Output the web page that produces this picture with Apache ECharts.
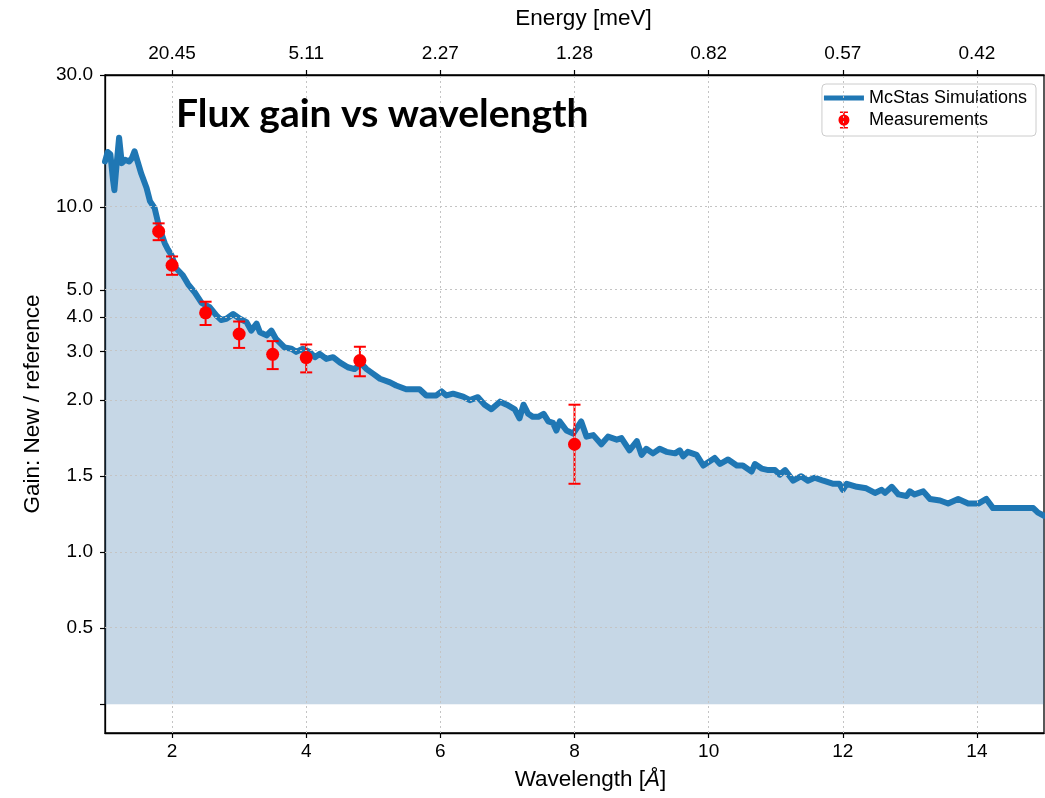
<!DOCTYPE html>
<html>
<head>
<meta charset="utf-8">
<script src="https://cdn.jsdelivr.net/npm/echarts@6/dist/echarts.min.js"></script>
<style>
html,body{margin:0;padding:0;background:#fff;}
#chart{width:1045px;height:798px;}
</style>
</head>
<body>
<div id="chart"></div>
<script>
// ---------- data ----------
const simX = [1.00,1.04,1.08,1.12,1.14,1.17,1.21,1.25,1.30,1.36,1.40,1.44,1.49,1.54,1.62,1.67,1.74,1.81,1.89,1.94,1.99,2.06,2.16,2.24,2.34,2.44,2.56,2.66,2.73,2.81,2.91,3.01,3.11,3.18,3.26,3.31,3.41,3.48,3.55,3.68,3.78,3.85,3.95,4.05,4.13,4.20,4.30,4.40,4.50,4.62,4.72,4.82,4.90,5.00,5.10,5.25,5.34,5.49,5.54,5.69,5.79,5.94,6.02,6.09,6.19,6.34,6.44,6.56,6.66,6.76,6.89,6.99,7.11,7.18,7.24,7.31,7.38,7.46,7.54,7.61,7.68,7.73,7.78,7.88,7.98,8.10,8.18,8.28,8.40,8.50,8.63,8.70,8.82,8.93,9.00,9.07,9.17,9.27,9.37,9.50,9.57,9.62,9.69,9.82,9.92,10.09,10.17,10.29,10.42,10.51,10.64,10.69,10.79,10.89,10.99,11.06,11.14,11.26,11.38,11.48,11.58,11.71,11.86,11.95,12.00,12.06,12.21,12.35,12.48,12.58,12.63,12.73,12.83,12.95,13.00,13.07,13.20,13.30,13.45,13.57,13.72,13.87,14.02,14.14,14.24,14.44,14.64,14.84,14.91,15.00];
const simY = [14.6,15.8,15.5,12.5,11.5,14.0,17.8,14.4,14.8,14.6,15.0,15.9,14.5,13.2,11.7,10.5,9.9,8.4,7.4,7.0,6.7,6.0,5.66,5.25,4.9,4.5,4.34,4.05,3.9,3.94,4.1,3.94,3.83,3.57,3.78,3.52,3.43,3.57,3.33,3.10,3.07,2.99,3.07,2.99,2.86,2.94,2.82,2.86,2.74,2.63,2.59,2.71,2.59,2.49,2.39,2.32,2.26,2.19,2.19,2.19,2.08,2.08,2.15,2.08,2.11,2.06,2.00,2.05,1.97,1.94,1.99,1.97,1.94,1.88,1.97,1.91,1.89,1.89,1.91,1.86,1.85,1.80,1.86,1.80,1.78,1.86,1.76,1.77,1.71,1.76,1.74,1.75,1.67,1.73,1.64,1.68,1.65,1.68,1.66,1.65,1.67,1.63,1.66,1.64,1.57,1.62,1.58,1.61,1.57,1.57,1.53,1.58,1.55,1.54,1.54,1.51,1.54,1.47,1.50,1.47,1.49,1.47,1.45,1.45,1.41,1.45,1.43,1.42,1.39,1.41,1.39,1.43,1.38,1.37,1.40,1.38,1.40,1.35,1.34,1.32,1.35,1.32,1.32,1.35,1.29,1.29,1.29,1.29,1.26,1.24];

const measX = [1.8, 2.0, 2.5, 3.0, 3.5, 4.0, 4.8, 8.0];
const measY = [8.15, 6.15, 4.14, 3.47, 2.93, 2.85, 2.78, 1.71];
const measErr = [0.57, 0.47, 0.40, 0.38, 0.34, 0.33, 0.34, 0.26];

const xTicks = [2, 4, 6, 8, 10, 12, 14];
const xTickLabels = ['2', '4', '6', '8', '10', '12', '14'];
const energyLabels = ['20.45', '5.11', '2.27', '1.28', '0.82', '0.57', '0.42'];
const yTicks = [0, 0.5, 1.0, 1.5, 2.0, 3.0, 4.0, 5.0, 10.0, 30.0];
const yTickLabels = ['', '0.5', '1.0', '1.5', '2.0', '3.0', '4.0', '5.0', '10.0', '30.0'];

// ---------- symlog scale (linear below 2, log above) ----------
const LIN = 2, LS = 1.10;
function T(y) { return y <= LIN ? (y / LIN) * LS : LS + Math.log10(y / LIN); }
const yT = yTicks.map(T);
const yMin = -0.104, yMax = T(30);

function yLabel(v) {
  let best = 0, bd = Infinity;
  yT.forEach((t, i) => { const d = Math.abs(t - v); if (d < bd) { bd = d; best = i; } });
  return bd < 1e-6 ? yTickLabels[best] : '';
}
function xLabel(arr) {
  return function (v) { const i = xTicks.indexOf(Math.round(v * 1000) / 1000); return i >= 0 ? arr[i] : ''; };
}

const FONT = 'Liberation Sans';
const chart = echarts.init(document.getElementById('chart'), null, { renderer: 'canvas' });

const errIconPath = 'path://M1,0H9V1.6H1Z M4.2,0H5.8V17H4.2Z M1,15.4H9V17H1Z M-0.5,8.5A5.5,5.5 0 1,1 10.5,8.5A5.5,5.5 0 1,1 -0.5,8.5Z';

chart.setOption({
  animation: false,
  backgroundColor: '#fff',
  textStyle: { fontFamily: FONT },
  title: {
    text: 'Flux gain vs wavelength',
    left: 171, top: 90,
    textStyle: { fontFamily: 'Lato', fontWeight: 'bold', fontSize: 39, color: '#000' }
  },
  legend: {
    orient: 'vertical',
    right: 9, top: 84,
    padding: [5, 9, 7, 2],
    itemGap: 4,
    itemWidth: 40, itemHeight: 17,
    backgroundColor: 'rgba(255,255,255,0.85)',
    borderColor: '#cccccc', borderWidth: 1, borderRadius: 4,
    textStyle: { fontSize: 18, color: '#000', fontFamily: FONT },
    data: [
      { name: 'McStas Simulations', icon: 'path://M0,0H40V5H0Z' },
      { name: 'Measurements', icon: errIconPath }
    ]
  },
  grid: { left: 105, right: 1, top: 75, bottom: 65, show: true, borderColor: '#000', borderWidth: 1.3, backgroundColor: 'transparent' },
  xAxis: [
    {
      type: 'value', position: 'bottom', min: 1, max: 15,
      name: 'Wavelength [{i|Å}]', nameLocation: 'middle', nameGap: 35,
      nameTextStyle: { fontSize: 22.5, color: '#000', fontFamily: FONT, padding: [0, 0, 0, 32], rich: { i: { fontStyle: 'italic', fontSize: 22.5, fontFamily: FONT } } },
      axisLine: { show: true, onZero: false, lineStyle: { color: '#000', width: 1.3 } },
      axisTick: { show: true, inside: false, length: 5, customValues: xTicks, lineStyle: { color: '#000', width: 1.2 } },
      axisLabel: { customValues: xTicks, formatter: xLabel(xTickLabels), fontSize: 19, color: '#000', margin: 9, fontFamily: FONT },
      splitLine: { show: false }
    },
    {
      type: 'value', position: 'top', min: 1, max: 15,
      name: 'Energy [meV]', nameLocation: 'middle', nameGap: 45,
      nameTextStyle: { fontSize: 22.5, color: '#000', fontFamily: FONT, padding: [0, 0, 0, 18] },
      axisLine: { show: true, onZero: false, lineStyle: { color: '#000', width: 1.3 } },
      axisTick: { show: true, inside: false, length: 5, customValues: xTicks, lineStyle: { color: '#000', width: 1.2 } },
      axisLabel: { customValues: xTicks, formatter: xLabel(energyLabels), fontSize: 19, color: '#000', margin: 12, fontFamily: FONT },
      splitLine: { show: false }
    }
  ],
  yAxis: {
    type: 'value', min: yMin, max: yMax,
    name: 'Gain: New / reference', nameLocation: 'middle', nameGap: 61,
    nameTextStyle: { fontSize: 22.5, color: '#000', fontFamily: FONT },
    axisLine: { show: true, onZero: false, lineStyle: { color: '#000', width: 1.3 } },
    axisTick: { show: true, inside: false, length: 5, customValues: yT, lineStyle: { color: '#000', width: 1.2 } },
    axisLabel: { customValues: yT, formatter: yLabel, fontSize: 19, color: '#000', margin: 12, fontFamily: FONT },
    splitLine: { show: false }
  },
  series: [
    {
      name: 'grid', type: 'line', data: [], silent: true, z: 1,
      markLine: {
        silent: true, symbol: 'none', animation: false,
        label: { show: false },
        lineStyle: { color: '#c4c4c4', type: [2, 3], width: 1 },
        data: xTicks.map(v => ({ xAxis: v })).concat(yTicks.filter(v => v > 0 && v < 30).map(v => ({ yAxis: T(v) })))
      }
    },
    {
      name: 'McStas Simulations', type: 'line', z: 3,
      showSymbol: false, symbol: 'none',
      data: simX.map((x, i) => [x, T(simY[i])]),
      lineStyle: { color: '#1f77b4', width: 6, join: 'round', cap: 'round' },
      itemStyle: { color: '#1f77b4' },
      areaStyle: { color: 'rgba(50,110,165,0.28)', opacity: 1, origin: 'auto' }
    },
    {
      name: 'Measurements', type: 'custom', z: 4,
      itemStyle: { color: '#ff0000' },
      data: measX.map((x, i) => [x, T(measY[i] - measErr[i]), T(measY[i] + measErr[i])]),
      encode: { x: 0, y: [1, 2] },
      renderItem: function (params, api) {
        const x = api.value(0);
        const lo = api.coord([x, api.value(1)]);
        const hi = api.coord([x, api.value(2)]);
        const hw = 6;
        const st = { stroke: '#ff0000', lineWidth: 2 };
        return {
          type: 'group', children: [
            { type: 'line', shape: { x1: lo[0], y1: lo[1], x2: hi[0], y2: hi[1] }, style: st },
            { type: 'line', shape: { x1: lo[0] - hw, y1: lo[1], x2: lo[0] + hw, y2: lo[1] }, style: st },
            { type: 'line', shape: { x1: hi[0] - hw, y1: hi[1], x2: hi[0] + hw, y2: hi[1] }, style: st }
          ]
        };
      }
    },
    {
      name: 'Measurements', type: 'scatter', z: 5,
      symbol: 'circle', symbolSize: 13,
      itemStyle: { color: '#ff0000', opacity: 1 },
      data: measX.map((x, i) => [x, T(measY[i])])
    }
  ]
});
</script>
</body>
</html>
